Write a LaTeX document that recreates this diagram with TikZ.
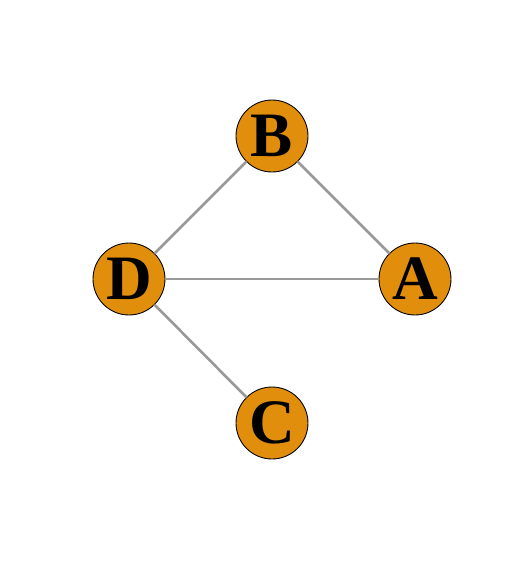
\documentclass[tikz,border=0pt]{standalone}
\usepackage{fontspec}
\setmainfont{Liberation Serif}
\usetikzlibrary{positioning}
\definecolor{vorange}{HTML}{E08E0B}
\definecolor{egray}{HTML}{999999}
\begin{document}
\begin{tikzpicture}[x=0.02cm, y=-0.02cm,
  vert/.style={circle, draw=black, line width=0.5pt, fill=vorange,
    minimum size=1.44cm, inner sep=0pt, outer sep=0pt,
    font=\fontsize{36}{36}\selectfont\bfseries},
  edge/.style={egray, line width=1.5pt}]
  \useasboundingbox (0,0) rectangle (506,579);
  \node[vert] (b) at (272,136) {B};
  \node[vert] (d) at (129,279) {D};
  \node[vert] (a) at (415,279) {A};
  \node[vert] (c) at (272,423) {C};
  \draw[edge] (b) -- (d);
  \draw[edge] (b) -- (a);
  \draw[edge] (d) -- (a);
  \draw[edge] (d) -- (c);
\end{tikzpicture}
\end{document}
